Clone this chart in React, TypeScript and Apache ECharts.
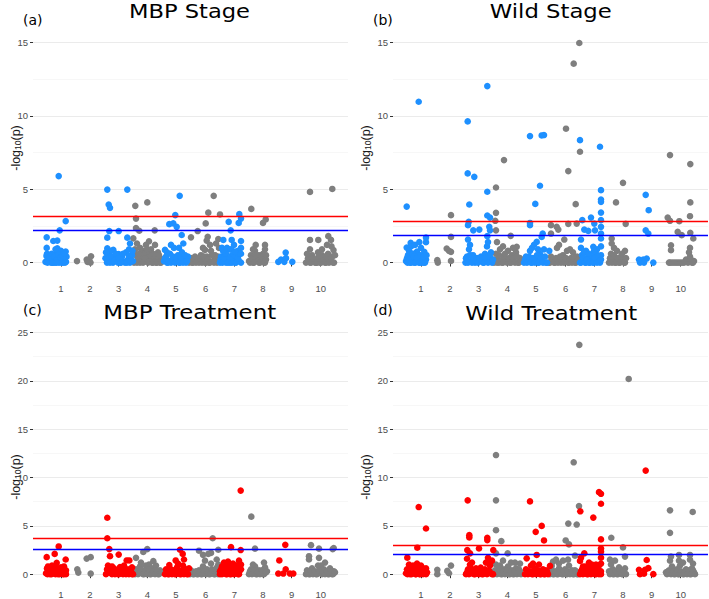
import React, { useEffect, useRef } from "react";
import * as echarts from "echarts";

// ---------- data ----------
const chromosomes = ["1", "2", "3", "4", "5", "6", "7", "8", "9", "10"];
// cumulative genome position (arbitrary units) of each chromosome label
const chrCenters = [28, 57, 85.7, 114.3, 143, 172.7, 201.3, 230, 258.7, 287.7];

const panelTitles = ["MBP Stage", "Wild Stage", "MBP Treatment", "Wild Treatment"];
const panelTags = ["(a)", "(b)", "(c)", "(d)"];
const redThresholds = [3.17, 2.82, 3.72, 2.98];
const blueThresholds = [2.17, 1.89, 2.53, 2.09];
const stageTicks = [0, 5, 10, 15];
const stageMinor = [2.5, 7.5, 12.5];
const treatmentTicks = [0, 5, 10, 15, 20, 25];
const treatmentMinor = [2.5, 7.5, 12.5, 17.5, 22.5];

// [chromosome, position, -log10(p)]
const mbpStage: number[][] = [
  [1,25.7,5.9],[1,32.7,2.83],[1,26.7,2.2],[1,13.7,1.72],[1,20.3,1.47],[1,24.3,1.5],[1,13.7,1.0],[1,24.3,0.97],[1,32.7,0.75],[1,12.5,0.05],[1,15,0.3],[1,17,0.1],[1,19,0.45],[1,21,0.2],[1,23,0.6],[1,25,0.3],[1,27,0.1],[1,29,0.5],[1,31,0.2],[1,33,0.05],[1,14,0.6],[1,18,0.0],[1,22,0.0],[1,26,0.0],[1,30,0.0],[1,33.5,0.4],[1,28,0.8],[1,16,0.15],
  [1,13.5,0.45],[1,14.5,0.0],[1,16.5,0.35],[1,18.5,0.6],[1,20,0.0],[1,21.5,0.4],[1,22.5,0.9],[1,24,0.2],[1,25.5,0.55],[1,27.5,0.35],[1,28.5,0.0],[1,30,0.45],[1,31.5,0.6],[1,32,0.0],[1,19.5,0.0],[1,23.5,0.0],
  [2,44,0.1],[2,53.7,0.2],[2,58,0.43],[2,56.3,0.18],[2,57.5,0.0],[2,54.5,0.05],
  [3,74.3,4.98],[3,94.3,4.98],[3,75.7,3.96],[3,77,3.73],[3,76.3,2.15],[3,85.7,2.15],[3,74.3,1.7],[3,94.3,1.7],[3,74.3,0.97],[3,80.3,0.86],[3,85.7,0.57],[3,97,1.3],[3,72.5,0.3],[3,74,0],[3,76,0.5],[3,78,0.15],[3,80,0],[3,82,0.35],[3,84,0.1],[3,87,0],[3,89,0.4],[3,91,0.05],[3,93,0.7],[3,95,0.2],[3,97,0],[3,99,0.5],[3,96,0.9],[3,78,0.8],[3,92,0.0],[3,100,0.1],
  [3,73,0.7],[3,75,0.25],[3,77,0.0],[3,79,0.4],[3,81,0.1],[3,83,0.6],[3,85,0.0],[3,86,0.3],[3,88,0.0],[3,90,0.6],[3,94,0.0],[3,96,0.45],[3,98,0.1],[3,99.5,0.8],
  [4,102.3,3.87],[4,114.3,4.1],[4,103,3.0],[4,103,2.35],[4,106.3,2.17],[4,121.7,2.2],[4,100.3,1.65],[4,104,1.3],[4,107,1.0],[4,110,0.8],[4,113,1.2],[4,116,1.45],[4,118,0.9],[4,120,0.6],[4,122,1.2],[4,125,0.7],[4,127,0.3],[4,101,0],[4,103,0.5],[4,105,0.2],[4,107,0.0],[4,109,0.35],[4,111,0.05],[4,113,0.5],[4,115,0.0],[4,117,0.3],[4,119,0.0],[4,121,0.15],[4,123,0.0],[4,125,0.2],[4,127,0],[4,111,0.6],[4,115,0.75],
  [4,102,0.9],[4,104,0.0],[4,106,0.6],[4,108,0.1],[4,110,0.0],[4,112,0.3],[4,114,0.9],[4,116,0.1],[4,118,0.45],[4,120,0.0],[4,122,0.5],[4,124,0.0],[4,126,0.5],[4,128,0.0],
  [5,146.7,4.55],[5,142.3,3.24],[5,136.3,2.62],[5,140.3,2.67],[5,143.7,2.44],[5,148.7,1.88],[5,150.3,1.3],[5,132,0.86],[5,131,0.1],[5,133,0.4],[5,135,0],[5,137,0.6],[5,139,0.2],[5,141,1.0],[5,143,0.1],[5,145,0.5],[5,147,0.0],[5,149,0.7],[5,151,0.25],[5,153,0],[5,155,0.4],[5,138,1.2],[5,146,1.0],[5,134,0.0],
  [5,132,0.3],[5,134,0.7],[5,136,0.1],[5,138,0.0],[5,140,0.4],[5,142,0.0],[5,144,0.3],[5,146,0.0],[5,148,0.35],[5,150,0.0],[5,152,0.5],[5,154,0.1],
  [6,180.7,4.55],[6,175.3,3.4],[6,187,3.28],[6,172.7,2.67],[6,164.7,2.15],[6,158,1.72],[6,174.7,1.76],[6,173.7,1.5],[6,185.3,1.6],[6,172,0.86],[6,156,0.0],[6,158,0.3],[6,160,0],[6,162,0.4],[6,164,0.1],[6,166,0],[6,168,0.5],[6,170,0.2],[6,172,0],[6,174,0.4],[6,176,0.0],[6,178,0.8],[6,180,0.1],[6,182,0.5],[6,184,0.0],[6,186,1.0],[6,177,1.2],[6,183,1.3],[6,170,1.0],
  [6,157,0.1],[6,159,0.0],[6,161,0.2],[6,163,0.0],[6,165,0.3],[6,167,0.1],[6,169,0.0],[6,171,0.4],[6,173,0.0],[6,175,0.2],[6,177,0.0],[6,179,0.5],[6,181,0.0],[6,183,0.2],[6,185,0.4],
  [7,206.3,3.3],[7,208,3.0],[7,195.7,2.78],[7,205.7,2.7],[7,197.7,2.2],[7,190.3,1.54],[7,198.7,1.54],[7,208,1.47],[7,187,0],[7,188,0.4],[7,189,1.0],[7,190,0.1],[7,192,0.6],[7,193,0],[7,194,0.3],[7,196,0.9],[7,197,0.0],[7,199,0.5],[7,200,0.1],[7,201,1.2],[7,202,0.0],[7,204,0.4],[7,205,0.8],[7,206,0.1],[7,208,0.0],[7,208,0.6],[7,208,1.0],[7,191,0.8],[7,203,0.25],
  [7,187.5,0.2],[7,189.5,0.0],[7,191,0.3],[7,193,0.6],[7,195,0.0],[7,197,0.3],[7,199,0.0],[7,201,0.5],[7,203,0.0],[7,205,0.3],[7,207,0.6],[7,190,0.8],[7,194,1.0],[7,198,0.9],[7,202,0.75],
  [8,218.3,3.66],[8,232.7,2.94],[8,230,2.7],[8,222.7,1.2],[8,232,1.2],[8,216,0.1],[8,218,0.5],[8,220,0],[8,222,0.8],[8,224,0.3],[8,226,0],[8,228,0.2],[8,230,0.6],[8,232,0.0],[8,232,0.9],[8,220,0.9],[8,226,0.5],
  [8,217,0.0],[8,219,0.3],[8,221,0.0],[8,223,0.5],[8,225,0.1],[8,227,0.0],[8,229,0.4],[8,231,0.0],[8,233,0.5],[8,233,0.2],
  [9,252.7,0.68],[9,245.3,0.05],[9,251.3,0.05],[9,259.3,0.05],[9,248,0.2],[9,253,0.3],
  [10,277,4.82],[10,299.3,5.02],[10,277,1.54],[10,285.3,1.54],[10,295.3,1.8],[10,298,1.54],[10,298.5,1.1],[10,285,0.7],[10,277,0.9],[10,273,0],[10,275,0.3],[10,277,0],[10,279,0.5],[10,281,0.1],[10,283,0],[10,285,0.3],[10,287,0],[10,289,0.9],[10,291,0.2],[10,293,0.0],[10,295,0.6],[10,297,0.1],[10,299,0.4],[10,301,0],[10,300.5,0.85],[10,294,1.2],[10,289,0.5],
  [10,274,0.6],[10,276,0.1],[10,278,0.0],[10,280,0.3],[10,282,0.0],[10,284,0.0],[10,286,0.5],[10,288,0.0],[10,290,0.1],[10,292,0.0],[10,294,0.4],[10,296,0.0],[10,298,0.3],[10,300,0.0],[10,302,0.5],
];

const wildStage: number[][] = [
  [1,25.7,10.97],[1,13.7,3.82],[1,33,1.7],[1,33,1.39],[1,17.7,1.34],[1,26.3,1.39],[1,13.7,1.02],[1,18,1.1],[1,22,1.2],[1,31.3,0.73],[1,24,0.75],[1,13,0.1],[1,15,0.5],[1,17,0],[1,19,0.3],[1,21,0.0],[1,23,0.4],[1,25,0.1],[1,27,0.0],[1,29,0.3],[1,31,0.0],[1,33,0.2],[1,16,0.8],[1,20,0.6],[1,28,1.0],
  [1,14,0.3],[1,14.5,0.0],[1,16,0.2],[1,18,0.0],[1,19.5,0.6],[1,21,0.4],[1,22.5,0.0],[1,24,0.3],[1,26,0.0],[1,27.5,0.5],[1,29,0.0],[1,30.5,0.4],[1,32,0.0],[1,33.5,0.5],
  [2,44.3,0.16],[2,44.8,0.0],[2,58,3.23],[2,58,1.75],[2,53.7,0.95],[2,56,0.8],[2,58,0.73],[2,58,0.11],
  [3,94.3,12.04],[3,74.7,9.63],[3,74.7,6.08],[3,81.3,5.85],[3,94.3,4.83],[3,76.3,3.96],[3,75.7,2.78],[3,75,2.55],[3,94.3,3.21],[3,97,3.07],[3,80.3,2.2],[3,86.3,2.25],[3,96.3,2.44],[3,97,2.2],[3,75,1.57],[3,94.3,1.8],[3,72.5,0.0],[3,74,0.4],[3,76,0.9],[3,78,0.1],[3,80,0.5],[3,82,0.0],[3,84,0.3],[3,86,0.1],[3,88,0.4],[3,90,0.0],[3,92,0.6],[3,94,1.1],[3,96,0.3],[3,98,0.7],[3,99,0.0],[3,95,1.4],[3,77,1.2],
  [3,73,0.3],[3,75,0.0],[3,77,0.5],[3,79,0.0],[3,81,0.3],[3,83,0.1],[3,85,0.0],[3,87,0.3],[3,89,0.1],[3,91,0.0],[3,93,0.3],[3,95,0.0],[3,97,0.4],[3,100,0.2],
  [4,111,6.99],[4,103,5.12],[4,103,3.39],[4,102.3,2.85],[4,103,2.2],[4,117.7,1.82],[4,123.7,1.07],[4,101,0.0],[4,103,0.6],[4,105,0.2],[4,107,0.9],[4,109,0.0],[4,111,0.4],[4,113,0.1],[4,115,0.8],[4,117,0.0],[4,119,0.5],[4,121,0.1],[4,123,0.7],[4,125,0.0],[4,127,0.3],[4,106,0.0],[4,114,0.0],[4,120,1.0],[4,110,1.1],[4,104,1.4],
  [4,102,0.2],[4,104,0.0],[4,106,0.5],[4,108,0.1],[4,110,0.0],[4,112,0.6],[4,116,0.3],[4,118,0.0],[4,120,0.3],[4,122,0.0],[4,124,0.4],[4,126,0.0],[4,128,0.1],
  [5,137,8.63],[5,148.7,8.67],[5,151,8.7],[5,147,5.24],[5,142.3,4.0],[5,137,2.7],[5,137,2.55],[5,149.7,1.98],[5,148.7,1.75],[5,143.7,1.41],[5,156.3,0.8],[5,131,0],[5,133,0.4],[5,135,0.1],[5,137,0.8],[5,139,0.0],[5,141,1.2],[5,143,0.3],[5,145,0.0],[5,147,0.6],[5,149,0.1],[5,151,0.9],[5,153,0.0],[5,139,1.0],[5,145,0.9],
  [5,132,0.2],[5,134,0.0],[5,136,0.4],[5,138,0.0],[5,140,0.3],[5,142,0.0],[5,144,0.5],[5,146,0.0],[5,148,0.3],[5,150,0.0],[5,152,0.4],[5,154,0.0],
  [6,186.3,14.98],[6,180.7,13.57],[6,173,9.13],[6,175.3,6.24],[6,182.7,3.98],[6,175.3,2.64],[6,183.7,2.66],[6,158,2.55],[6,163.7,2.44],[6,165.3,2.25],[6,158,1.98],[6,171.3,1.57],[6,187,7.56],[6,156,0.0],[6,158,0.4],[6,160,0.1],[6,162,0.0],[6,164,1.0],[6,166,0.2],[6,168,0.0],[6,170,0.5],[6,172,0.1],[6,174,0.8],[6,176,0.0],[6,178,0.3],[6,180,0.7],[6,182,0.0],[6,184,0.4],[6,186,0.1],[6,166,1.2],[6,177,0.9],
  [6,157,0.0],[6,159,0.2],[6,161,0.0],[6,163,0.3],[6,165,0.0],[6,167,0.4],[6,169,0.1],[6,171,0.0],[6,173,0.3],[6,175,0.0],[6,177,0.2],[6,179,0.0],[6,181,0.3],[6,183,0.0],[6,185,0.2],
  [7,187,8.35],[7,207,7.9],[7,208,4.94],[7,208,4.3],[7,208,4.14],[7,208,3.41],[7,198,3.07],[7,189.3,2.89],[7,208,2.89],[7,201.3,2.66],[7,191.3,2.25],[7,195.3,2.16],[7,202,2.2],[7,208,2.44],[7,208,1.98],[7,208,1.64],[7,188,1.57],[7,200.3,1.07],[7,187,0],[7,189,0.5],[7,191,0.1],[7,193,0.0],[7,195,0.4],[7,197,0.0],[7,199,0.3],[7,201,0.0],[7,203,0.6],[7,205,0.1],[7,207,0.0],[7,208,0.5],[7,208,1.1],[7,188,1.0],[7,193,0.8],[7,204,0.9],
  [7,188,0.0],[7,190,0.3],[7,192,0.0],[7,194,0.2],[7,196,0.0],[7,198,0.5],[7,200,0.0],[7,202,0.3],[7,204,0.0],[7,206,0.4],[7,208,0.2],[7,191,0.7],[7,196,0.6],[7,201,0.8],
  [8,230,5.44],[8,223,4.1],[8,232.7,2.64],[8,218.7,1.64],[8,218.7,1.3],[8,216,0.0],[8,218,0.6],[8,220,0.2],[8,222,0.0],[8,224,0.8],[8,226,0.0],[8,228,0.4],[8,230,0.1],[8,232,0.0],[8,232,0.8],[8,221,1.0],
  [8,217,0.3],[8,219,0.0],[8,221,0.5],[8,223,0.0],[8,225,0.3],[8,227,0.0],[8,229,0.6],[8,231,0.0],[8,233,0.3],
  [9,252.7,4.62],[9,255.7,3.57],[9,252.7,2.2],[9,255.3,1.98],[9,246,0.2],[9,250.3,0.2],[9,253.7,0.27],[9,260.3,0.0],[9,247,0.0],[9,251,0.0],
  [10,277,7.33],[10,297.3,6.72],[10,297.3,4.1],[10,274.7,3.07],[10,277,2.85],[10,286.3,2.82],[10,297,3.16],[10,284.7,2.09],[10,288.7,1.87],[10,297.3,2.03],[10,300.3,1.64],[10,278,1.18],[10,278,0.84],[10,297,1.0],[10,277,0],[10,283,0],[10,285,0.0],[10,287,0.0],[10,289,0],[10,293,0.2],[10,295,0.0],[10,297,0.4],[10,299,0.0],[10,301,0.1],[10,296,0.7],
  [10,276,0.0],[10,279,0.0],[10,281,0.0],[10,291,0.0],[10,298,0.2],[10,300,0.0],
];

const mbpTreatment: number[][] = [
  [1,25.7,2.87],[1,21.7,2.1],[1,13.7,1.76],[1,32.7,1.52],[1,23.7,1.18],[1,15,0.8],[1,19,0.9],[1,28,0.7],[1,31,0.8],[1,13,0.1],[1,15,0.4],[1,17,0.0],[1,19,0.3],[1,21,0.1],[1,23,0.5],[1,25,0.0],[1,27,0.3],[1,29,0.1],[1,31,0.0],[1,33,0.4],[1,33,0.0],[1,20,0.6],
  [1,14,0.6],[1,14.5,0.0],[1,16,0.2],[1,18,0.5],[1,18.5,0.0],[1,20,0.2],[1,22,0.7],[1,22.5,0.0],[1,24,0.3],[1,26,0.6],[1,26.5,0.0],[1,28,0.2],[1,30,0.5],[1,30,0.0],[1,32,0.2],
  [2,44.3,0.5],[2,45.3,0.17],[2,53.7,1.62],[2,57.7,1.76],[2,57.7,0.07],
  [3,74.3,5.84],[3,74.3,3.72],[3,76.3,2.6],[3,77,1.86],[3,85.7,2.03],[3,93.7,1.42],[3,96.3,1.42],[3,87,0.74],[3,73,0.0],[3,74,0.5],[3,75,0.9],[3,77,0.2],[3,79,0.0],[3,81,0.6],[3,83,0.1],[3,85,0.0],[3,89,0.3],[3,91,0.9],[3,93,0.0],[3,95,0.5],[3,97,0.1],[3,99,0.7],[3,99,0.0],[3,79,0.8],
  [3,75.5,0.3],[3,78,0.5],[3,80,0.2],[3,82,0.0],[3,84,0.4],[3,86,0.0],[3,88,0.2],[3,90,0.0],[3,92,0.4],[3,94,0.1],[3,96,0.0],[3,98,0.3],[3,100,0.0],
  [4,114.3,2.6],[4,110.3,2.3],[4,103,1.69],[4,120.3,1.35],[4,101,0.1],[4,103,0.5],[4,105,0],[4,107,0.8],[4,109,0.2],[4,111,0.0],[4,113,0.9],[4,115,0.3],[4,117,0.0],[4,119,0.6],[4,121,0.1],[4,123,0.9],[4,125,0.0],[4,127,0.4],[4,108,1.2],[4,116,1.0],
  [4,102,0.0],[4,104,0.3],[4,106,0.1],[4,108,0.5],[4,110,0.0],[4,112,0.4],[4,114,0.0],[4,116,0.5],[4,118,0.0],[4,120,0.3],[4,122,0.0],[4,124,0.4],[4,126,0.0],[4,128,0.2],
  [5,147,2.53],[5,149.7,2.1],[5,151,1.52],[5,142.7,1.42],[5,136.3,0.95],[5,132,0.0],[5,134,0.3],[5,136,0.0],[5,138,0.5],[5,140,0.1],[5,142,0.0],[5,144,0.7],[5,146,0.2],[5,148,0.0],[5,150,0.9],[5,152,0.3],[5,154,0.0],[5,156,0.6],[5,145,1.1],
  [5,133,0.5],[5,135,0.0],[5,137,0.2],[5,139,0.0],[5,141,0.4],[5,143,0.0],[5,145,0.3],[5,147,0.0],[5,149,0.4],[5,151,0.0],[5,153,0.5],[5,155,0.0],
  [6,179.7,3.72],[6,166,2.43],[6,175.3,2.1],[6,178,2.2],[6,185.3,2.53],[6,183.7,1.52],[6,185.3,1.0],[6,156,0.1],[6,158,0.4],[6,160,0.0],[6,162,0.2],[6,164,0.0],[6,166,0.4],[6,168,0.0],[6,170,0.8],[6,172,0.1],[6,174,0.5],[6,176,0.0],[6,178,1.1],[6,180,0.3],[6,182,0.0],[6,184,0.7],[6,172,1.4],[6,170,2.0],
  [6,157,0.0],[6,159,0.2],[6,161,0.0],[6,163,0.3],[6,165,0.0],[6,167,0.2],[6,169,0.0],[6,171,0.3],[6,173,0.0],[6,175,0.2],[6,177,0.0],[6,179,0.5],[6,181,0.0],[6,183,0.2],[6,185,0.0],
  [7,207.7,8.65],[7,198,2.8],[7,207.7,2.5],[7,206,1.4],[7,195,1.3],[7,200,1.1],[7,187,0.0],[7,188,0.5],[7,190,0.1],[7,192,0.8],[7,194,0.0],[7,196,0.4],[7,198,0.0],[7,200,0.6],[7,202,0.1],[7,204,0.9],[7,206,0.0],[7,208,0.5],[7,208,1.0],[7,191,1.2],[7,203,0.3],
  [7,187,0.3],[7,189,0.0],[7,191,0.4],[7,193,0.0],[7,195,0.3],[7,197,0.0],[7,199,0.4],[7,201,0.0],[7,203,0.6],[7,205,0.0],[7,207,0.4],[7,189,0.8],[7,197,0.9],[7,205,0.9],
  [8,218.3,5.95],[8,222,2.64],[8,216,0.0],[8,218,0.5],[8,220,0.1],[8,222,0.8],[8,224,0.0],[8,226,0.4],[8,228,0.1],[8,230,0.0],[8,232,0.7],[8,234,0.3],[8,220,1.0],[8,231,1.2],
  [8,217,0.3],[8,219,0.0],[8,221,0.4],[8,223,0.0],[8,225,0.2],[8,227,0.0],[8,229,0.4],[8,231,0.0],[8,233,0.2],
  [9,252.3,3.04],[9,246.3,1.42],[9,252.7,0.5],[9,245.3,0.07],[9,250.3,0.07],[9,257,0.07],[9,260.3,0.07],
  [10,278,3.0],[10,286,2.64],[10,300.7,2.7],[10,299.7,2.6],[10,276,1.86],[10,276,1.52],[10,286,1.69],[10,292,1.2],[10,273,0.0],[10,275,0.2],[10,277,0.0],[10,279,0.6],[10,281,0.1],[10,283,0.0],[10,285,0.9],[10,287,0.3],[10,289,0.0],[10,291,0.5],[10,293,0.1],[10,295,0.0],[10,297,0.6],[10,299,0.0],[10,301,0.3],[10,288,0.9],
  [10,274,0.4],[10,276,0.0],[10,278,0.3],[10,280,0.0],[10,282,0.3],[10,284,0.0],[10,286,0.4],[10,290,0.2],[10,292,0.0],[10,294,0.3],[10,296,0.0],[10,298,0.4],[10,300,0.0],[10,302,0.2],
];

const wildTreatment: number[][] = [
  [1,25.7,6.95],[1,33,4.73],[1,24.3,2.74],[1,14.3,1.71],[1,16,1.0],[1,24,1.1],[1,28,0.9],[1,33,0.6],[1,13,0.1],[1,15,0.5],[1,17,0.0],[1,19,0.7],[1,21,0.2],[1,23,0.0],[1,25,0.4],[1,27,0.0],[1,29,0.3],[1,31,0.1],[1,33,0.0],[1,20,0.9],[1,30,0.6],
  [1,14,0.5],[1,14.5,0.0],[1,16,0.3],[1,18,0.6],[1,18.5,0.0],[1,20,0.3],[1,22,0.6],[1,22.5,0.0],[1,24,0.4],[1,26,0.7],[1,26.5,0.0],[1,28,0.3],[1,30,0.0],[1,32,0.4],[1,34,0.2],
  [2,44.3,0.45],[2,44.3,0.0],[2,54.3,0.34],[2,58,0.89],[2,56,0.1],
  [3,74.7,7.64],[3,76.3,4.04],[3,76.3,3.8],[3,74.3,2.5],[3,77,2.16],[3,94.3,3.77],[3,94.3,3.53],[3,86,2.67],[3,100.3,2.5],[3,87.7,0.68],[3,74,1.6],[3,95,1.7],[3,73,0.0],[3,75,0.5],[3,77,1.0],[3,79,0.1],[3,81,0.0],[3,83,0.6],[3,85,0.1],[3,89,0.0],[3,91,0.4],[3,93,1.2],[3,95,0.3],[3,97,0.9],[3,99,0.0],[3,99,1.4],[3,79,1.2],
  [3,74,0.2],[3,76,0.0],[3,78,0.6],[3,80,0.3],[3,82,0.0],[3,84,0.4],[3,86,0.0],[3,88,0.3],[3,90,0.0],[3,92,0.5],[3,94,0.0],[3,96,0.4],[3,98,0.1],[3,100,0.0],[3,97,1.1],
  [4,103,12.33],[4,103,7.64],[4,103,4.55],[4,108.3,3.42],[4,114.7,2.16],[4,103,2.16],[4,110,1.4],[4,122,1.2],[4,101,0.0],[4,103,1.0],[4,105,0.2],[4,107,0.9],[4,109,0.0],[4,111,0.5],[4,113,0.1],[4,115,0.8],[4,117,0.0],[4,119,0.4],[4,121,0.0],[4,123,0.6],[4,125,0.1],[4,127,0.3],[4,127,1.1],[4,118,1.2],
  [4,102,0.4],[4,104,0.0],[4,106,0.6],[4,108,0.0],[4,110,0.3],[4,112,0.0],[4,114,0.4],[4,116,0.0],[4,118,0.3],[4,120,0.0],[4,122,0.3],[4,124,0.0],[4,126,0.5],[4,128,0.0],
  [5,137,7.53],[5,148.7,5.0],[5,142.7,4.38],[5,151,3.49],[5,143.7,1.99],[5,133.7,1.64],[5,157,0.86],[5,132,0.0],[5,134,0.4],[5,136,0.1],[5,138,0.9],[5,140,0.0],[5,142,0.6],[5,144,0.2],[5,146,1.0],[5,148,0.0],[5,150,0.5],[5,152,0.0],[5,154,0.3],[5,140,1.1],
  [5,133,0.5],[5,135,0.0],[5,137,0.3],[5,139,0.0],[5,141,0.4],[5,143,0.0],[5,145,0.4],[5,147,0.0],[5,149,0.3],[5,151,0.0],[5,153,0.4],[5,155,0.0],
  [6,186.3,23.73],[6,180.7,11.58],[6,186,7.05],[6,175.3,5.24],[6,183.7,5.14],[6,172.7,3.49],[6,176,3.08],[6,182,1.92],[6,158.7,0.86],[6,160,1.3],[6,163,1.5],[6,166,1.1],[6,170,1.4],[6,156,0.2],[6,158,0.5],[6,160,0.0],[6,162,0.3],[6,164,0.0],[6,166,0.6],[6,168,0.1],[6,170,0.0],[6,172,0.5],[6,174,0.0],[6,176,0.9],[6,178,0.1],[6,180,0.0],[6,182,0.4],[6,184,0.0],[6,175,1.5],
  [6,157,0.0],[6,159,0.3],[6,161,0.0],[6,163,0.2],[6,165,0.0],[6,167,0.4],[6,169,0.0],[6,171,0.3],[6,173,0.0],[6,175,0.3],[6,177,0.0],[6,179,0.4],[6,181,0.0],[6,183,0.3],[6,185,0.0],
  [7,206,8.49],[7,208,8.32],[7,208,7.29],[7,200.3,5.86],[7,187.3,6.51],[7,208,3.6],[7,191.3,2.16],[7,188,1.71],[7,187,1.37],[7,208,2.67],[7,208,2.33],[7,208,1.71],[7,187,0.0],[7,189,0.5],[7,191,0.1],[7,193,0.8],[7,195,0.0],[7,197,0.4],[7,199,1.0],[7,201,0.2],[7,203,0.0],[7,205,0.6],[7,207,0.1],[7,208,0.0],[7,208,1.1],[7,196,1.2],[7,203,1.0],
  [7,188,0.3],[7,190,0.0],[7,192,0.4],[7,194,0.0],[7,196,0.3],[7,198,0.0],[7,200,0.5],[7,202,0.0],[7,204,0.4],[7,206,0.0],[7,208,0.3],[7,190,0.8],[7,198,0.7],[7,206,0.9],
  [8,235.7,20.2],[8,218.3,3.77],[8,230,2.77],[8,232,1.82],[8,216,0.3],[8,218,1.0],[8,220,0.5],[8,222,1.4],[8,224,0.0],[8,226,0.7],[8,228,0.2],[8,230,0.0],[8,232,0.6],[8,220,0.0],[8,217,1.5],
  [8,217,0.0],[8,219,0.4],[8,221,0.0],[8,223,0.3],[8,225,0.0],[8,227,0.4],[8,229,0.0],[8,231,0.3],[8,233,0.0],
  [9,252.7,10.72],[9,253.7,1.47],[9,246,0.45],[9,252,0.45],[9,255.3,0.62],[9,260.3,0.0],[9,247,0.0],[9,251,0.05],
  [10,277,6.61],[10,299.7,6.44],[10,277,4.28],[10,278,1.82],[10,286,1.99],[10,297,1.99],[10,277,1.4],[10,286,1.4],[10,297,1.5],[10,300,1.1],[10,273,0.2],[10,275,0.3],[10,279,0.8],[10,281,0.0],[10,283,0.4],[10,285,0.0],[10,287,0.9],[10,289,0.2],[10,291,0.0],[10,293,0.5],[10,295,0.1],[10,297,0.0],[10,299,0.6],[10,301,0.2],[10,290,1.2],
  [10,274,0.0],[10,276,0.4],[10,278,0.0],[10,280,0.3],[10,282,0.0],[10,284,0.5],[10,286,0.0],[10,288,0.3],[10,290,0.0],[10,292,0.3],[10,294,0.0],[10,296,0.4],[10,298,0.0],[10,300,0.4],[10,302,0.0],
];

// ---------- layout / style ----------
const panelData = [mbpStage, wildStage, mbpTreatment, wildTreatment];
const highlightColors = ["#1E90FF", "#1E90FF", "#FF0000", "#FF0000"];
const GRAY = "#7F7F7F";

const layouts = [
  { left: 33, top: 31.7, height: 243.3, yMin: -0.85, yMax: 15.75, ticks: stageTicks, minor: stageMinor, labelMargin: 8 },
  { left: 393, top: 31.7, height: 243.3, yMin: -0.85, yMax: 15.75, ticks: stageTicks, minor: stageMinor, labelMargin: 8 },
  { left: 33, top: 320.5, height: 261.6, yMin: -0.6, yMax: 26.25, ticks: treatmentTicks, minor: treatmentMinor, labelMargin: 9 },
  { left: 393, top: 320.5, height: 261.6, yMin: -0.6, yMax: 26.25, ticks: treatmentTicks, minor: treatmentMinor, labelMargin: 9 },
];
const titlePos = [
  { cx: 189.5, cy: 11.2, w: 121 },
  { cx: 550.8, cy: 11.2, w: 122 },
  { cx: 189.7, cy: 312.5, w: 173 },
  { cx: 551.2, cy: 312.7, w: 172 },
];
const tagPos = [
  { x: 23, y: 20 },
  { x: 373, y: 20 },
  { x: 23, y: 310 },
  { x: 373, y: 310 },
];
const yTitlePos = [
  { x: 16, y: 148 },
  { x: 366, y: 148 },
  { x: 16, y: 477 },
  { x: 366, y: 477 },
];

const TITLE_FONT = "DejaVu Sans";
const TICK_FONT = "Liberation Sans";

function measure(text: string, font: string): number {
  const ctx = document.createElement("canvas").getContext("2d");
  if (!ctx) return 0;
  ctx.font = font;
  return ctx.measureText(text).width;
}

export default function App() {
  const ref = useRef<HTMLDivElement>(null);

  useEffect(() => {
    if (!ref.current) return;
    const chart = echarts.init(ref.current, null, { renderer: "svg" });

    const grids: any[] = [];
    const xAxes: any[] = [];
    const yAxes: any[] = [];
    const series: any[] = [];
    const graphics: any[] = [];

    layouts.forEach((L, i) => {
      grids.push({ left: L.left, top: L.top, width: 315, height: L.height, containLabel: false });
      xAxes.push({
        type: "value",
        gridIndex: i,
        min: 0,
        max: 315,
        axisLine: { show: false },
        splitLine: { show: false },
        axisTick: { show: true, length: 4, customValues: chrCenters, lineStyle: { color: "#333333", width: 1 } },
        axisLabel: {
          customValues: chrCenters,
          margin: L.labelMargin,
          color: "#4D4D4D",
          fontSize: 9.5,
          fontFamily: TICK_FONT,
          formatter: (v: number) => {
            let best = 0;
            chrCenters.forEach((c, k) => {
              if (Math.abs(c - v) < Math.abs(chrCenters[best] - v)) best = k;
            });
            return chromosomes[best];
          },
        },
      });
      yAxes.push({
        type: "value",
        gridIndex: i,
        min: L.yMin,
        max: L.yMax,
        axisLine: { show: false },
        splitLine: { show: false },
        axisTick: { show: true, length: 3, customValues: L.ticks, lineStyle: { color: "#333333", width: 1 } },
        axisLabel: {
          customValues: L.ticks,
          margin: 5,
          color: "#4D4D4D",
          fontSize: 9.5,
          fontFamily: TICK_FONT,
        },
      });

      // grid lines
      series.push({
        type: "scatter",
        xAxisIndex: i,
        yAxisIndex: i,
        data: [],
        silent: true,
        z: 1,
        markLine: {
          silent: true,
          z: 1,
          symbol: ["none", "none"],
          label: { show: false },
          emphasis: { disabled: true },
          data: [
            ...L.ticks.map((v) => ({ yAxis: v, lineStyle: { color: "#EBEBEB", width: 1, type: "solid" } })),
            ...L.minor.map((v) => ({ yAxis: v, lineStyle: { color: "#F3F3F3", width: 0.7, type: "solid" } })),
          ],
        },
      });

      const rows = panelData[i];
      series.push({
        type: "scatter",
        xAxisIndex: i,
        yAxisIndex: i,
        z: 3,
        clip: false,
        silent: true,
        symbolSize: 6.6,
        itemStyle: { color: GRAY, opacity: 1 },
        emphasis: { disabled: true },
        data: rows.filter((r) => r[0] % 2 === 0).map((r) => [r[1], r[2]]),
      });
      series.push({
        type: "scatter",
        xAxisIndex: i,
        yAxisIndex: i,
        z: 3,
        clip: false,
        silent: true,
        symbolSize: 6.6,
        itemStyle: { color: highlightColors[i], opacity: 1 },
        emphasis: { disabled: true },
        data: rows.filter((r) => r[0] % 2 === 1).map((r) => [r[1], r[2]]),
      });

      // significance thresholds
      series.push({
        type: "scatter",
        xAxisIndex: i,
        yAxisIndex: i,
        data: [],
        silent: true,
        z: 6,
        markLine: {
          silent: true,
          z: 6,
          symbol: ["none", "none"],
          label: { show: false },
          emphasis: { disabled: true },
          data: [
            { yAxis: redThresholds[i], lineStyle: { color: "#FF0000", width: 1.4, type: "solid" } },
            { yAxis: blueThresholds[i], lineStyle: { color: "#0000FF", width: 1.4, type: "solid" } },
          ],
        },
      });

      const tFont = `20px "${TITLE_FONT}"`;
      const tw = measure(panelTitles[i], tFont) || 1;
      const T = titlePos[i];
      graphics.push({
        type: "text",
        x: T.cx,
        y: T.cy,
        scaleX: T.w / tw,
        silent: true,
        style: {
          text: panelTitles[i],
          fontSize: 20,
          fontFamily: TITLE_FONT,
          fill: "#000000",
          align: "center",
          verticalAlign: "middle",
        },
      });
      const G = tagPos[i];
      graphics.push({
        type: "text",
        x: G.x,
        y: G.y,
        silent: true,
        style: {
          text: panelTags[i],
          fontSize: 14,
          fontFamily: TITLE_FONT,
          fill: "#000000",
          align: "left",
          verticalAlign: "middle",
        },
      });
      const Y = yTitlePos[i];
      graphics.push({
        type: "text",
        x: Y.x,
        y: Y.y,
        rotation: Math.PI / 2,
        silent: true,
        style: {
          text: "-log{s|10}(p)",
          fontSize: 12.5,
          fontFamily: TICK_FONT,
          fill: "#1A1A1A",
          align: "center",
          verticalAlign: "middle",
          rich: {
            s: { fontSize: 8.5, fontFamily: TICK_FONT, fill: "#1A1A1A", verticalAlign: "bottom", padding: [3, 0, 0, 0] },
          },
        },
      });
    });

    chart.setOption({
      animation: false,
      backgroundColor: "#FFFFFF",
      grid: grids,
      xAxis: xAxes,
      yAxis: yAxes,
      series,
      graphic: graphics,
    });

    return () => chart.dispose();
  }, []);

  return (
    <div
      ref={ref}
      style={{ position: "fixed", left: 0, top: 0, width: 709, height: 599, background: "#FFFFFF" }}
    />
  );
}
